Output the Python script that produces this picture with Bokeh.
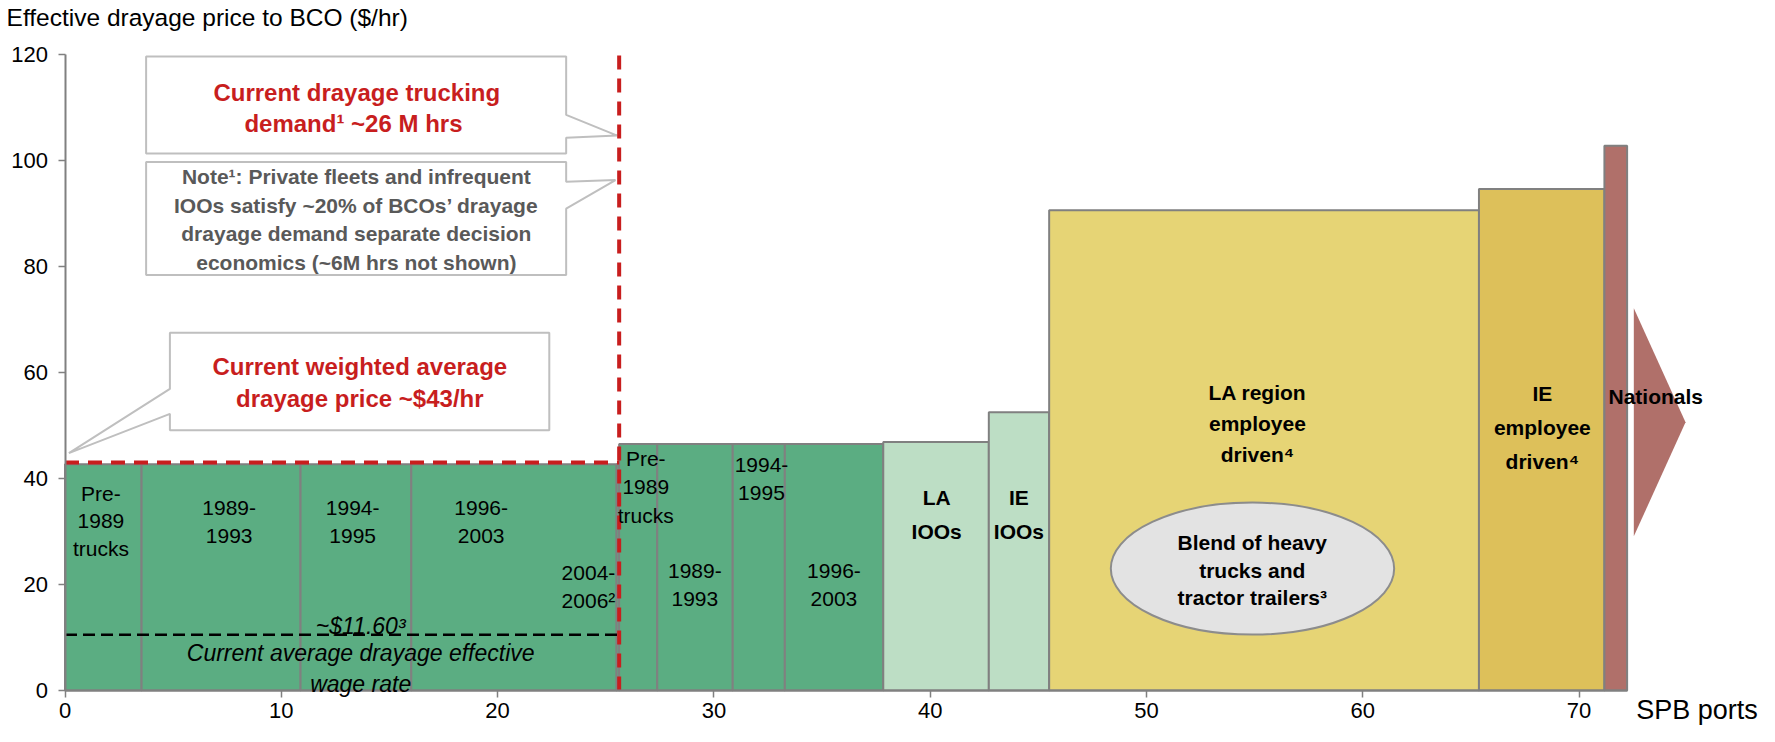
import numpy as np
from bokeh.plotting import figure
from bokeh.models import Range1d, FixedTicker, Label
from bokeh.embed import file_html
from bokeh.resources import INLINE

# ---------------- data ----------------
segments = ["Pre-1989 trucks", "1989-1993", "1994-1995", "1996-2003", "2004-2006",
            "Pre-1989 trucks", "1989-1993", "1994-1995", "1996-2003",
            "LA IOOs", "IE IOOs", "LA region employee driven", "IE employee driven", "Nationals"]
hours_m = [3.54, 7.35, 5.12, 9.49, 0.12,
           1.76, 3.49, 2.41, 4.55,
           4.88, 2.79, 19.87, 5.80, 1.05]
price_hr = [42.7, 42.7, 42.7, 42.7, 42.7,
            46.5, 46.5, 46.5, 46.5,
            46.9, 52.5, 90.6, 94.6, 102.8]
group = ["spb1"] * 5 + ["spb2"] * 4 + ["ioo", "ioo", "la_emp", "ie_emp", "nat"]
bar_labels = ["Pre-\n1989\ntrucks", "1989-\n1993", "1994-\n1995", "1996-\n2003", "2004-\n2006²",
              "Pre-\n1989\ntrucks", "1989-\n1993", "1994-\n1995", "1996-\n2003",
              "LA\nIOOs", "IE\nIOOs", "LA region\nemployee\ndriven⁴", "IE\nemployee\ndriven⁴", "Nationals"]
avg_price = 43
wage_line = 10.5
x_ticks = [0, 10, 20, 30, 40, 50, 60, 70]
y_ticks = [0, 20, 40, 60, 80, 100, 120]

# ---------------- styles ----------------
colors = {"spb1": "#5BAD82", "spb2": "#5BAD82", "ioo": "#BDDEC5",
          "la_emp": "#E6D475", "ie_emp": "#DDC05A", "nat": "#B0706A"}
FONT = "Liberation Sans"
RED = "#C81E1E"

right = np.cumsum(hours_m)
left = right - np.array(hours_m)
demand = right[4]

W, H = 1759, 726
x0_px, xs = 64.5, 21.63      # pixel of x=0, px per unit
y0_px, ys = 690.0, 5.3       # pixel of y=0, px per unit
x_rng = Range1d(-x0_px / xs, (W - x0_px) / xs)
y_rng = Range1d(-(H - y0_px) / ys, y0_px / ys)

p = figure(width=W, height=H, x_range=x_rng, y_range=y_rng, title=None,
           output_backend="svg", toolbar_location=None,
           min_border_left=0, min_border_right=0, min_border_top=0, min_border_bottom=0)
p.outline_line_color = None
p.grid.visible = False

for ax, ticks, bounds in ((p.xaxis, x_ticks, (0, float(right[-1]))), (p.yaxis, y_ticks, (0, 120))):
    ax.fixed_location = 0
    ax.ticker = FixedTicker(ticks=ticks)
    ax.bounds = bounds
    ax.axis_line_color = "#808080"
    ax.axis_line_width = 2
    ax.major_tick_line_color = "#808080"
    ax.major_tick_line_width = 1.5
    ax.major_tick_out = 7
    ax.major_tick_in = 0
    ax.minor_tick_out = 0
    ax.minor_tick_in = 0
    ax.major_label_text_font = FONT
    ax.major_label_text_font_size = "22px"
    ax.major_label_text_color = "#000000"
p.xaxis.major_label_standoff = 5
p.yaxis.major_label_standoff = 10

# bars
p.quad(left=left, right=right, bottom=0, top=price_hr,
       fill_color=[colors[g] for g in group], line_color="#808080", line_width=2)

# nationals arrow
p.patch([72.53, 74.92, 72.53], [72.1, 50.6, 29.1], fill_color=colors["nat"], line_color=None)

# ellipse
p.ellipse(x=54.9, y=23.0, width=13.1, height=24.9, fill_color="#E3E3E3",
          line_color="#8C8C8C", line_width=2)

# callout boxes
box_line = "#BFBFBF"
p.patch([3.75, 23.17, 23.17, 25.53, 23.17, 23.17, 3.75],
        [119.6, 119.6, 108.6, 104.7, 104.3, 101.3, 101.3],
        fill_color="white", line_color=box_line, line_width=2)
p.patch([3.75, 23.17, 23.17, 25.45, 23.17, 23.17, 3.75],
        [99.7, 99.7, 96.0, 96.3, 90.9, 78.4, 78.4],
        fill_color="white", line_color=box_line, line_width=2)
p.patch([4.85, 22.39, 22.39, 4.85, 4.85, 0.18, 4.85],
        [67.5, 67.5, 49.1, 49.1, 52.2, 44.8, 56.9],
        fill_color="white", line_color=box_line, line_width=2)

# dashed reference lines
p.line([0, demand], [wage_line, wage_line], line_color="black", line_width=2.5, line_dash="12 6")
p.line([0, demand], [avg_price, avg_price], line_color=RED, line_width=4, line_dash="14 9")
p.line([demand, demand], [0, 120], line_color=RED, line_width=4, line_dash="14 9")

# bar labels
label_pos = [(1.66, 32.0, 1.19), (7.59, 31.9, 1.22), (13.3, 31.9, 1.22), (19.24, 31.9, 1.22),
             (24.2, 19.7, 1.22), (26.85, 38.4, 1.22), (29.12, 20.0, 1.22), (32.2, 39.95, 1.22),
             (35.55, 20.05, 1.22), (40.3, 33.25, 1.5), (44.1, 33.25, 1.5), (55.13, 50.4, 1.34),
             (68.3, 49.65, 1.48), (71.36, 55.4, 1.2)]
for i, (txt, g) in enumerate(zip(bar_labels, group)):
    x, y, lh = label_pos[i]
    bold = g not in ("spb1", "spb2")
    p.add_layout(Label(x=x, y=y, text=txt, text_font=FONT, text_font_size="21px",
                       text_font_style="bold" if bold else "normal",
                       text_align="left" if g == "nat" else "center",
                       text_baseline="middle", text_line_height=lh, text_color="#000000"))

def lab(x, y, text, size, style="normal", color="#000000", align="center", lh=1.2):
    p.add_layout(Label(x=x, y=y, text=text, text_font=FONT, text_font_size=size,
                       text_font_style=style, text_color=color, text_align=align,
                       text_baseline="middle", text_line_height=lh))

lab(54.89, 22.7, "Blend of heavy\ntrucks and\ntractor trailers³", "21px", "bold", lh=1.2)
lab(13.67, 12.1, "~$11.60³", "23px", "italic")
lab(13.67, 4.15, "Current average drayage effective\nwage rate", "23px", "italic", lh=1.23)
lab(13.49, 109.9, "Current drayage trucking\ndemand¹  ~26 M hrs", "24px", "bold", RED, lh=1.12)
lab(13.47, 88.85, "Note¹: Private fleets and infrequent\nIOOs satisfy ~20% of BCOs’ drayage\n"
    "drayage demand separate decision\neconomics (~6M hrs not shown)", "21px", "bold", "#595959", lh=1.24)
lab(13.63, 58.05, "Current weighted average\ndrayage price ~$43/hr", "24px", "bold", RED, lh=1.18)
lab(-2.70, 127.0, "Effective drayage price to BCO ($/hr)", "24.5px", align="left")
lab(72.64, -3.6, "SPB ports", "27px", align="left")

open("out.html", "w").write(file_html(p, INLINE))
